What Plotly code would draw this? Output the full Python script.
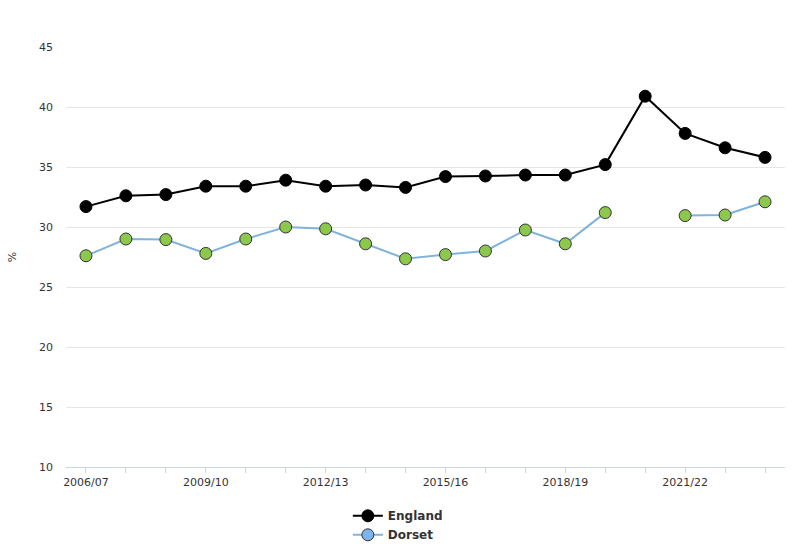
import plotly.graph_objects as go

years = ["2006/07", "2007/08", "2008/09", "2009/10", "2010/11", "2011/12",
         "2012/13", "2013/14", "2014/15", "2015/16", "2016/17", "2017/18",
         "2018/19", "2019/20", "2020/21", "2021/22", "2022/23", "2023/24"]
england = [31.7, 32.6, 32.7, 33.4, 33.4, 33.9, 33.4, 33.5, 33.3, 34.2, 34.25,
           34.33, 34.33, 35.2, 40.9, 37.8, 36.6, 35.8]
dorset = [27.6, 29.0, 28.95, 27.8, 29.0, 30.0, 29.85, 28.6, 27.35, 27.7, 28.0,
          29.75, 28.6, 31.2, None, 30.95, 31.0, 32.1]
tick_labels = [y if i % 3 == 0 else "" for i, y in enumerate(years)]
y_ticks = [10, 15, 20, 25, 30, 35, 40, 45]

FONT = "DejaVu Sans"

fig = go.Figure()
fig.add_trace(go.Scatter(
    x=years, y=england, name="England", mode="lines+markers",
    line=dict(color="#000000", width=2),
    marker=dict(color="#000000", size=12, line=dict(color="#000000", width=1)),
))
fig.add_trace(go.Scatter(
    x=years, y=dorset, name="Dorset", mode="lines+markers", showlegend=False,
    connectgaps=False,
    line=dict(color="#7fb3dc", width=2),
    marker=dict(color="#8cc84b", size=12, line=dict(color="#333333", width=1)),
))
# legend entry for Dorset (series colour)
fig.add_trace(go.Scatter(
    x=[None], y=[None], name="Dorset", mode="lines+markers",
    line=dict(color="#7fb3dc", width=2),
    marker=dict(color="#7cb5ec", size=12, line=dict(color="#333333", width=1)),
))

fig.update_layout(
    width=800, height=557,
    margin=dict(l=66, r=15, t=47, b=90),
    paper_bgcolor="white", plot_bgcolor="white",
    font=dict(family=FONT, size=11, color="#333333"),
    showlegend=True,
    legend=dict(orientation="v",
                x=0.392, xanchor="left", yref="container", y=0.1, yanchor="top",
                font=dict(family=FONT, size=12, color="#333333", weight="bold"),
                tracegroupgap=0, itemwidth=30, bgcolor="rgba(0,0,0,0)"),
    xaxis=dict(
        type="category", categoryorder="array", categoryarray=years,
        tickmode="array", tickvals=years, ticktext=tick_labels,
        range=[-0.5, len(years) - 0.5], tickangle=0,
        showgrid=False, showline=True, linecolor="#ccd6eb", linewidth=1,
        ticks="outside", ticklen=5, tickcolor="#ccd6eb",
        tickfont=dict(family=FONT, size=11, color="#333333"),
        zeroline=False,
    ),
    yaxis=dict(
        range=[10, 45], tickvals=y_ticks,
        showgrid=True, gridcolor="#e6e6e6", gridwidth=1,
        showline=False, zeroline=False, ticks="",
        ticklabelstandoff=12,
        tickfont=dict(family=FONT, size=11, color="#333333"),
        title=dict(text="%", font=dict(family=FONT, size=11, color="#333333"), standoff=20),
    ),
)

fig.write_html("out.html")
